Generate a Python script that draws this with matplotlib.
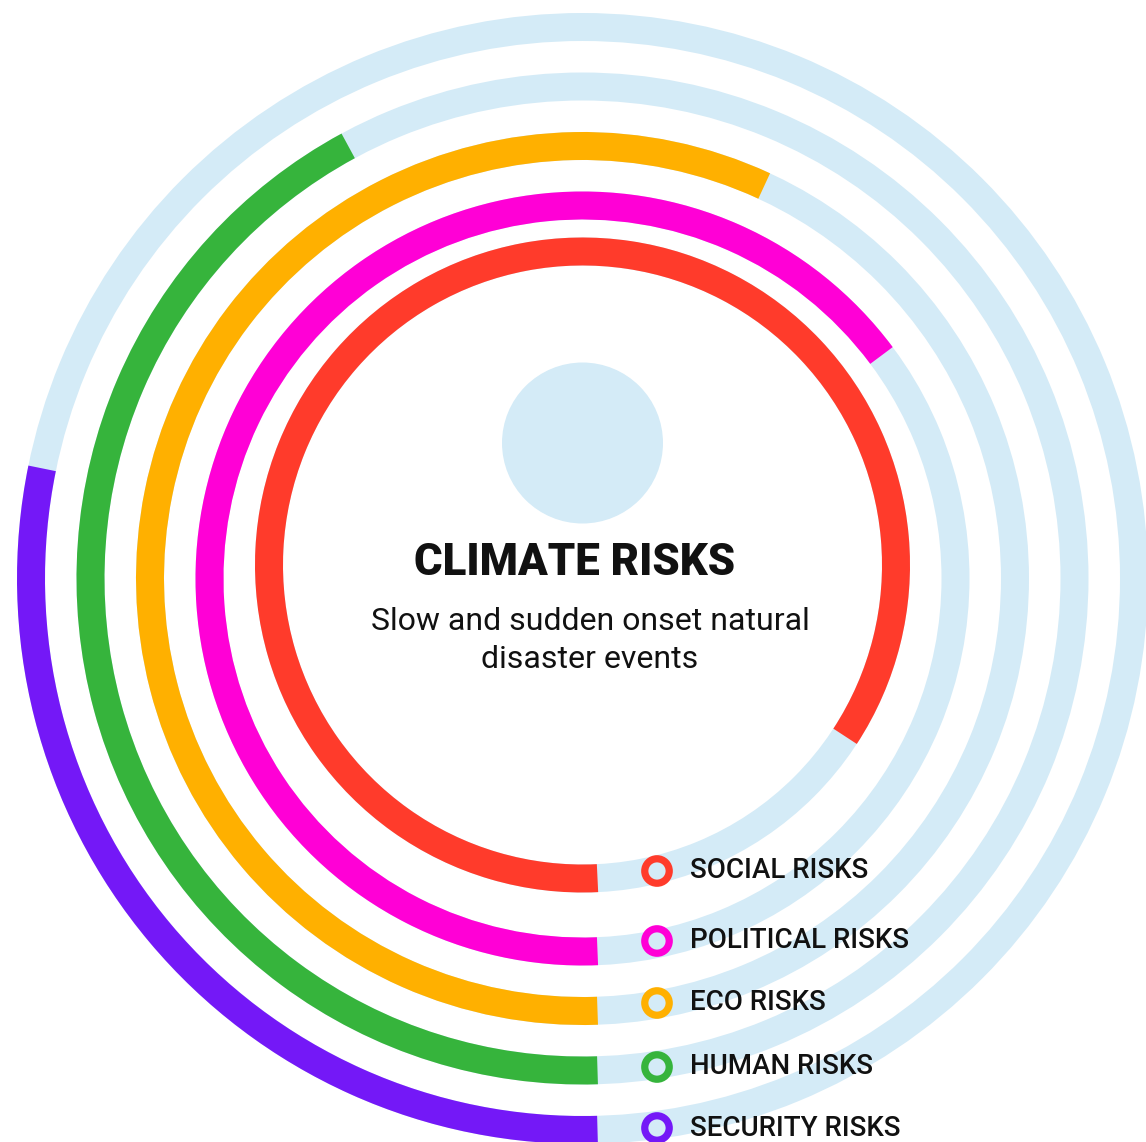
import numpy as np
import matplotlib
matplotlib.use("Agg")
import matplotlib.pyplot as plt
from matplotlib.patches import Circle

# ---------------- data ----------------
categories = ["SOCIAL RISKS", "POLITICAL RISKS", "ECO RISKS", "HUMAN RISKS", "SECURITY RISKS"]
values = [84.2, 64.8, 56.9, 42.1, 28.2]          # percent of a full turn, from 6 o'clock clockwise
colors = ["#FF3B2B", "#FF00D6", "#FFB000", "#36B43C", "#7418F7"]
title = "CLIMATE RISKS"
subtitle_lines = ["Slow and sudden onset natural", "disaster events"]

# ---------------- layout (pixels) ----------------
W, H = 1146, 1142
BG = "#D4EBF7"
cx, cy = 582.5, 578.5           # centre of outer rings
red_cy = 565.0                  # innermost ring sits slightly higher
radii = [313.5, 373.0, 432.5, 492.0, 551.5]
ring_w = 28.0
gap = 15.0                      # bars begin just right of 6 o'clock
R = 640.0

fig = plt.figure(figsize=(W / 100, H / 100), dpi=100)
fig.patch.set_facecolor("white")


def polar_axes(px, py):
    ax = fig.add_axes([(px - R) / W, (H - py - R) / H, 2 * R / W, 2 * R / H],
                      projection="polar")
    ax.set_theta_zero_location("S")
    ax.set_theta_direction(-1)
    ax.set_ylim(0, R)
    ax.set_axis_off()
    ax.patch.set_alpha(0)
    return ax


ax_main = polar_axes(cx, cy)
ax_red = polar_axes(cx, red_cy)

for i, (v, c, r) in enumerate(zip(values, colors, radii)):
    ax = ax_red if i == 0 else ax_main
    # light background track
    ax.bar(np.pi, ring_w, width=2 * np.pi, bottom=r - ring_w / 2,
           color=BG, linewidth=0, zorder=1)
    start = -np.arcsin(gap / r)
    end = v / 100 * 2 * np.pi
    ax.bar((start + end) / 2, ring_w, width=end - start, bottom=r - ring_w / 2,
           color=c, linewidth=0, zorder=2)

# ---------------- overlay: centre, text, legend ----------------
ov = fig.add_axes([0, 0, 1, 1])
ov.set_xlim(0, W)
ov.set_ylim(H, 0)
ov.set_axis_off()
ov.patch.set_alpha(0)

ov.add_patch(Circle((582.5, 443), 80.5, color=BG, linewidth=0))

ov.text(575, 563, title, ha="center", va="center", fontsize=31.5,
        fontfamily="Roboto", fontweight="black", color="#111111")
for line, y in zip(subtitle_lines, [621, 659]):
    ov.text(590, y, line, ha="center", va="center", fontsize=23,
            fontfamily="Roboto", color="#111111")

leg_y = [871, 941, 1003, 1067, 1128]
ov.scatter([657] * len(categories), leg_y, s=310, facecolors="none",
           edgecolors=colors, linewidths=5.2, zorder=5)
for cat, y in zip(categories, leg_y):
    ov.text(690, y, cat, ha="left", va="center", fontsize=20,
            fontfamily="Roboto", fontweight="medium", color="#111111")

fig.savefig("out.png", dpi=100, facecolor="white")
